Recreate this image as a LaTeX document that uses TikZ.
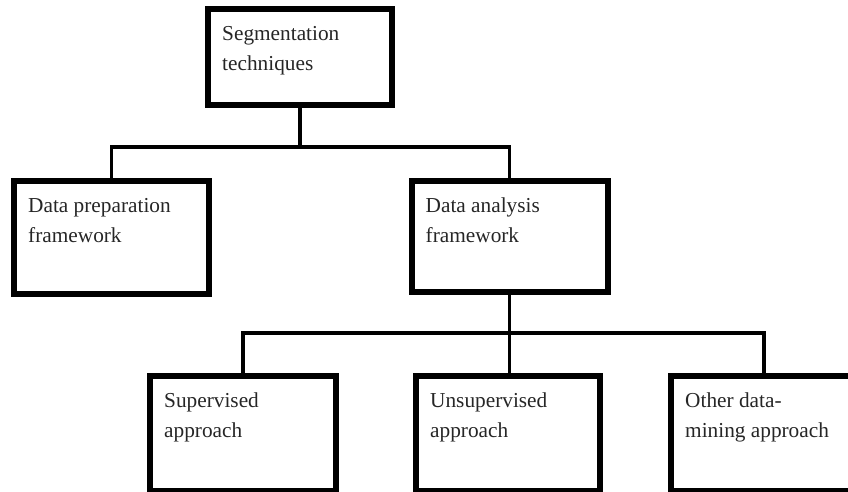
\documentclass[tikz,border=0pt]{standalone}
\usepackage{fontspec}
\setmainfont{Liberation Serif}
\tikzset{
  blockbox/.style={rectangle, draw, line width=6pt, inner sep=0pt},
  blocktext/.style={anchor=north west, xshift=17pt, yshift=-20pt, align=left, inner sep=0pt, text=black!85, font=\fontsize{21.3}{30}\selectfont},
  link/.style={line width=3.5pt}
}

\begin{document}
\begin{tikzpicture}[x=1pt,y=-1pt]
    \useasboundingbox (0,0) rectangle (848,492);
    \clip (0,0) rectangle (848,492);

    % nodes
    \node (seg) at (300,57) [blockbox, minimum width=184pt, minimum height=96pt] {};
    \node (prep) at (111.5,237.5) [blockbox, minimum width=195pt, minimum height=113pt] {};
    \node (ana) at (509.5,236.5) [blockbox, minimum width=196pt, minimum height=111pt] {};
    \node (sup) at (243,433) [blockbox, minimum width=186pt, minimum height=115pt] {};
    \node (uns) at (508,433) [blockbox, minimum width=184pt, minimum height=115pt] {};
    \node (oth) at (764,433) [blockbox, minimum width=186pt, minimum height=115pt] {};

    % texts
    \node (segtext) at (seg.north west) [blocktext] {Segmentation\\techniques};
    \node (preptext) at (prep.north west) [blocktext] {Data preparation\\framework};
    \node (anatext) at (ana.north west) [blocktext] {Data analysis\\framework};
    \node (suptext) at (sup.north west) [blocktext] {Supervised\\approach};
    \node (unstext) at (uns.north west) [blocktext] {Unsupervised\\approach};
    \node (othtext) at (oth.north west) [blocktext] {Other data-\\mining approach};

    % paths
    \coordinate (bus1) at (seg.south |- 0,147);
    \coordinate (bus2) at (ana.south |- 0,333);
    \draw[link] (seg.south) -- (bus1); % Segmentation -> bus
    \draw[link] (prep.north) |- (bus1) -| (ana.north); % bus -> frameworks
    \draw[link] (ana.south) -- (bus2); % Data analysis -> bus
    \draw[link] (sup.north) |- (bus2) -| (oth.north); % bus -> approaches
    \draw[link] (bus2) -- (bus2 |- uns.north); % bus -> Unsupervised

\end{tikzpicture}
\end{document}
